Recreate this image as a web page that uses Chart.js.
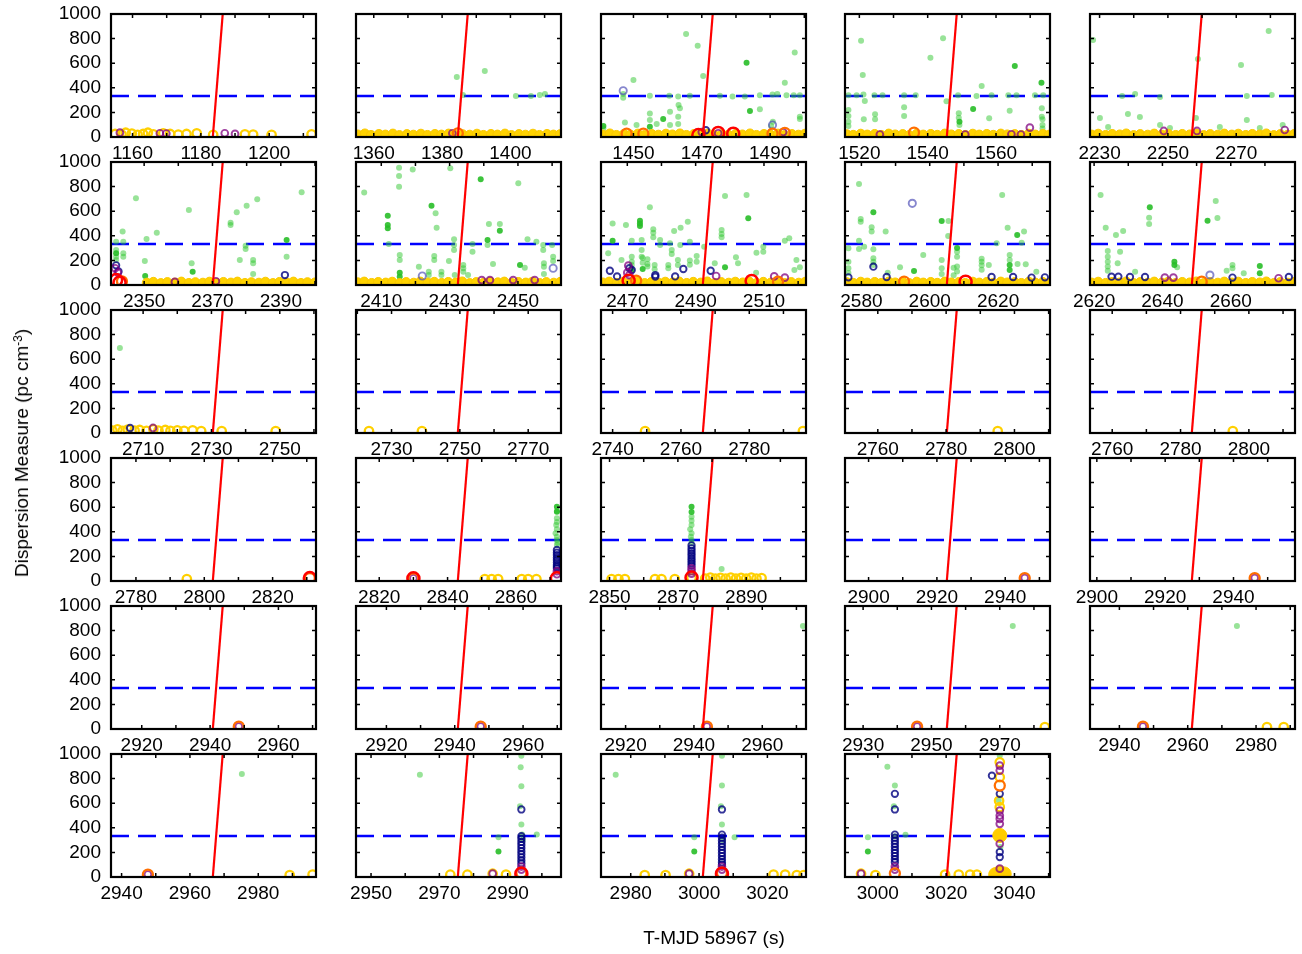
<!DOCTYPE html>
<html><head><meta charset="utf-8">
<script src="https://cdn.jsdelivr.net/npm/chart.js@4.4.1/dist/chart.umd.min.js"></script>
<style>
html,body{margin:0;padding:0;background:#fff;}
#wrap{position:relative;width:1302px;height:954px;overflow:hidden;font-family:"Liberation Sans",Arial,Helvetica,sans-serif;color:#000;}
#wrap canvas{position:absolute;}
#ytitle{position:absolute;left:22px;top:453px;transform:translate(-50%,-50%) rotate(-90deg);white-space:nowrap;font-size:19px;z-index:5;}
#ytitle sup{font-size:12px;vertical-align:6px;line-height:0;}
#xtitle{position:absolute;left:714px;top:938px;transform:translate(-50%,-50%);white-space:nowrap;font-size:19px;z-index:5;}
</style></head>
<body><div id="wrap">
<div id="ytitle">Dispersion Measure (pc cm<sup>-3</sup>)</div>
<div id="xtitle">T-MJD 58967 (s)</div>
</div>
<script>
// ---------------- DATA ----------------
const xMin = [1153.7,1354.8,1440.5,1515.8,2227.2,2340.3,2402.6,2462.3,2575.2,2618.8,2700.6,2719.6,2736.6,2750.4,2753.5,2772.7,2813.2,2847.5,2893.1,2898.0,2911.0,2911.1,2912.8,2924.7,2931.4,2936.9,2945.6,2971.3,2990.4];
const xMax = [1213.7,1414.8,1500.5,1575.8,2287.2,2400.3,2462.6,2522.3,2635.2,2678.8,2760.6,2779.6,2796.6,2810.4,2813.5,2832.7,2873.2,2907.5,2953.1,2958.0,2971.0,2971.1,2972.8,2984.7,2991.4,2996.9,3005.6,3031.3,3050.4];
const tickLabels = [[1160,1180,1200],[1360,1380,1400],[1450,1470,1490],[1520,1540,1560],[2230,2250,2270],
 [2350,2370,2390],[2410,2430,2450],[2470,2490,2510],[2580,2600,2620],[2620,2640,2660],
 [2710,2730,2750],[2730,2750,2770],[2740,2760,2780],[2760,2780,2800],[2760,2780,2800],
 [2780,2800,2820],[2820,2840,2860],[2850,2870,2890],[2900,2920,2940],[2900,2920,2940],
 [2920,2940,2960],[2920,2940,2960],[2920,2940,2960],[2930,2950,2970],[2940,2960,2980],
 [2940,2960,2980],[2950,2970,2990],[2980,3000,3020],[3000,3020,3040]];
const yTickValues = [0,200,400,600,800,1000];
// dispersion sweep (red line): time at DM 0 and at DM 1000
const sweepStart = [1183.5,1384.6,1470.3,1545.6,2257.0,2370.1,2432.4,2492.1,2605.0,2648.6,2730.4,2749.4,2766.4,2780.2,2783.3,2802.5,2843.0,2877.3,2922.9,2927.8,2940.8,2940.9,2942.6,2954.5,2961.2,2966.7,2975.4,3001.1,3020.2];
const sweepEnd   = [1186.4,1387.5,1473.2,1548.5,2259.9,2373.0,2435.3,2495.0,2607.9,2651.5,2733.3,2752.3,2769.3,2783.1,2786.2,2805.4,2845.9,2880.2,2925.8,2930.7,2943.7,2943.8,2945.5,2957.4,2964.1,2969.6,2978.3,3004.0,3023.1];
const dmSource = 333; // blue dashed line

// points: [panel, time (s), DM]
const greenLight = [
[2,1384.3,488],[2,1392.5,537],[2,1386.1,341],[2,1401.6,333],[2,1406.0,333],[2,1408.6,341],[2,1410.1,350],
[3,1465.4,837],[3,1468.8,742],[3,1450.0,463],[3,1470.4,496],[3,1497.2,688],[3,1494.3,442],
[3,1447.0,350],[3,1447.0,320],[3,1454.8,336],[3,1460.5,336],[3,1463.1,330],[3,1466.5,336],[3,1475.3,336],[3,1479.0,330],[3,1482.6,330],[3,1487.0,340],[3,1490.7,345],[3,1492.1,350],[3,1494.8,340],[3,1496.9,340],[3,1498.7,340],
[3,1463.2,260],[3,1463.6,233],[3,1460.7,206],[3,1463.1,165],[3,1454.8,192],[3,1454.8,138],[3,1456.8,106],[3,1460.7,98],[3,1463.1,106],[3,1487.0,225],[3,1447.5,117],[3,1450.9,98],[3,1498.7,165],[3,1498.7,146],[3,1441.2,70],[3,1490.8,125],[3,1490.3,89],
[4,1520.5,783],[4,1544.5,802],[4,1540.8,645],[4,1521.0,504],[4,1555.8,415],
[4,1516.8,340],[4,1519.2,340],[4,1521.2,345],[4,1524.4,340],[4,1526.8,340],[4,1533.1,340],[4,1536.5,340],[4,1545.5,290],[4,1548.9,340],[4,1554.3,333],[4,1558.7,340],[4,1563.6,340],[4,1566.0,340],[4,1571.4,340],[4,1573.8,340],
[4,1521.6,293],[4,1516.8,220],[4,1533.1,241],[4,1533.1,171],[4,1524.6,184],[4,1524.6,144],[4,1521.3,144],[4,1549.1,193],[4,1549.1,157],[4,1549.3,98],[4,1558.0,152],[4,1564.0,214],[4,1573.4,233],[4,1573.4,165],[4,1573.6,144],[4,1573.6,98],[4,1573.6,70],[4,1516.8,171],[4,1516.8,124],[4,1516.8,89],
[5,2228.1,789],[5,2279.5,862],[5,2258.8,634],[5,2271.4,585],[5,2236.6,333],[5,2240.4,350],[5,2247.7,325],[5,2273.1,333],[5,2280.4,341],[5,2230.1,154],[5,2232.5,81],[5,2238.3,187],[5,2241.8,163],[5,2247.7,98],[5,2250.6,73],[5,2258.2,154],[5,2265.2,81],[5,2273.1,138],[5,2276.9,73],[5,2283.6,98],
[6,2347.6,705],[6,2343.7,434],[6,2350.7,374],[6,2353.7,425],[6,2363.1,610],[6,2375.3,507],[6,2375.3,488],[6,2377.1,591],[6,2380.0,645],[6,2383.1,697],[6,2396.1,754],[6,2379.7,320],[6,2379.7,293],[6,2381.9,203],[6,2381.9,176],[6,2378.0,203],[6,2391.7,230],[6,2381.9,89],[6,2350.2,195],[6,2363.9,176],[6,2341.8,352],[6,2341.8,285],[6,2341.8,230],[6,2341.8,203],[6,2343.9,352],[6,2343.9,258],[6,2343.9,230],
[7,2405.0,753],[7,2415.2,954],[7,2415.2,886],[7,2415.2,799],[7,2419.2,940],[7,2430.2,949],[7,2450.1,827],[7,2425.9,583],[7,2426.2,466],[7,2441.5,496],[7,2444.7,496],[7,2452.8,371],[7,2455.4,352],[7,2457.4,325],[7,2457.4,285],[7,2460.0,325],[7,2412.2,333],[7,2431.3,371],[7,2431.3,325],[7,2431.3,285],[7,2436.7,333],[7,2436.7,271],[7,2441.1,325],[7,2415.4,244],[7,2415.4,203],[7,2425.5,236],[7,2425.5,203],[7,2421.0,149],[7,2423.9,108],[7,2423.9,81],[7,2427.6,108],[7,2427.6,81],[7,2429.8,195],[7,2431.5,81],[7,2434.0,163],[7,2434.0,136],[7,2434.0,108],[7,2435.4,81],[7,2442.7,171],[7,2452.0,141],[7,2457.6,176],[7,2457.6,149],[7,2457.6,89],[7,2460.3,230],[7,2460.3,195],
[8,2476.6,632],[8,2498.6,724],[8,2504.9,732],[8,2469.6,488],[8,2465.7,501],[8,2477.6,453],[8,2477.6,425],[8,2477.6,388],[8,2483.7,439],[8,2485.6,466],[8,2487.7,515],[8,2497.6,447],[8,2497.6,415],[8,2497.6,388],[8,2471.3,360],[8,2474.2,366],[8,2474.2,285],[8,2474.2,230],[8,2479.6,366],[8,2479.6,325],[8,2482.5,339],[8,2483.0,285],[8,2483.0,252],[8,2485.5,325],[8,2488.3,352],[8,2490.3,236],[8,2490.3,190],[8,2492.5,311],[8,2509.8,311],[8,2509.8,271],[8,2507.8,263],[8,2516.1,360],[8,2517.4,380],[8,2501.8,225],[8,2471.3,230],[8,2471.3,190],[8,2471.3,163],[8,2468.3,203],[8,2464.4,258],[8,2474.5,220],[8,2474.5,180],[8,2475.9,210],[8,2475.9,170],[8,2475.9,150],[8,2478.0,163],[8,2478.0,128],[8,2482.0,163],[8,2482.0,136],[8,2484.8,203],[8,2484.8,163],[8,2488.3,200],[8,2488.3,165],[8,2495.6,176],[8,2502.4,176],[8,2507.7,100],[8,2519.5,203],[8,2520.5,144],[8,2518.9,122],
[9,2579.3,821],[9,2579.8,515],[9,2579.8,537],[9,2583.0,469],[9,2583.0,434],[9,2587.1,434],[9,2579.3,360],[9,2579.3,293],[9,2580.8,311],[9,2583.5,290],[9,2583.5,217],[9,2583.5,190],[9,2583.5,163],[9,2576.2,190],[9,2576.2,136],[9,2576.2,98],[9,2587.7,100],[9,2598.1,244],[9,2605.5,520],[9,2605.4,398],[9,2603.5,203],[9,2603.5,136],[9,2603.5,89],[9,2608.0,270],[9,2608.0,230],[9,2608.0,150],[9,2608.0,110],[9,2607.0,140],[9,2607.0,80],[9,2615.2,214],[9,2615.2,190],[9,2615.2,160],[9,2615.2,125],[9,2617.3,163],[9,2619.6,339],[9,2621.2,732],[9,2622.8,466],[9,2623.4,244],[9,2623.4,203],[9,2626.9,344],[9,2628.1,168],[9,2625.7,171],[9,2631.2,108],[9,2576.2,298],[9,2627.6,434],[9,2591.3,144],
[10,2621.9,732],[10,2623.4,466],[10,2626.4,407],[10,2628.5,439],[10,2636.1,547],[10,2636.1,496],[10,2655.6,683],[10,2656.1,545],[10,2624.0,277],[10,2624.0,230],[10,2624.0,190],[10,2624.0,150],[10,2624.0,115],[10,2627.6,271],[10,2626.9,176],[10,2632.0,108],[10,2644.3,144],[10,2658.8,116],[10,2660.5,163],[10,2660.5,136],[10,2663.8,95],
[11,2703.2,691],
[17,2872.0,570],[17,2872.0,510],[17,2872.0,480],[17,2871.8,455],[17,2872.0,420],[17,2871.6,388],[17,2872.0,360],[17,2872.0,333],[17,2872.2,310],[17,2872.0,293],
[18,2874.0,523],[18,2874.0,490],[18,2874.0,455],[18,2873.6,420],[18,2874.0,388],[18,2873.8,360],[18,2874.0,333],[18,2874.0,306],[18,2882.8,98],
[23,2971.9,837],[24,2973.8,837],[25,2974.4,837],[26,2975.2,837],
[27,2964.3,832],[27,2994.0,986],[27,2993.8,892],[27,2994.0,738],[27,2993.6,576],[27,2994.0,427],[27,2994.2,346],[27,2998.5,346],[27,2987.3,324],[27,2994.4,300],
[28,2975.6,832],[28,3006.7,986],[28,3006.7,743],[28,3006.4,576],[28,3006.7,427],[28,3010.4,324],[28,2998.6,324],[28,3006.9,300],
[29,3002.8,897],[29,3005.0,743],[29,3004.7,576],[29,3005.0,330],[29,2997.1,324],[29,3008.1,343],[29,3035.7,986],[29,3035.4,622],[29,3035.9,243]
];
const greenDark = [
[3,1483.1,604],[3,1484.1,211],[3,1441.2,89],[3,1454.8,84],[3,1458.7,146],
[4,1565.5,577],[4,1573.3,442],[4,1553.3,228],[4,1549.3,124],
[6,2391.7,366],[6,2350.3,73],[6,2364.2,108],[6,2341.8,258],
[7,2439.1,859],[7,2411.9,564],[7,2411.9,488],[7,2411.9,461],[7,2424.7,645],[7,2444.7,442],[7,2415.4,100],[7,2415.4,68],[7,2450.6,163],[7,2441.1,366],
[8,2505.4,542],[8,2473.7,523],[8,2473.7,501],[8,2473.7,480],[8,2465.7,360],[8,2471.3,122],[8,2498.6,144],[8,2474.5,130],
[9,2583.5,591],[9,2595.4,114],[9,2603.5,520],[9,2623.4,163],[9,2623.4,122],[9,2625.6,407],[9,2608.0,300],
[10,2636.3,632],[10,2653.2,523],[10,2643.5,190],[10,2643.5,163],[10,2668.5,155],[10,2668.5,95],
[17,2872.0,604],[17,2872.0,563],[18,2874.0,604],[18,2874.0,560],
[27,2987.3,208],[28,2998.6,208],[29,2997.1,208]
];
const navyRings = [
[3,1471.2,55],
[6,2391.2,81],[6,2341.8,160],[6,2342.5,110],
[8,2464.9,116],[8,2470.6,136],[8,2471.3,122],[8,2478.2,81],[8,2478.2,68],[8,2486.4,130],[8,2494.4,116],[8,2467.0,70],[8,2484.0,70],
[9,2583.5,149],[9,2576.2,62],[9,2587.4,65],[9,2618.1,65],[9,2624.4,65],[9,2629.8,60],[9,2633.7,62],
[10,2625.1,68],[10,2627.1,68],[10,2630.5,65],[10,2634.9,65],[10,2660.5,60],[10,2677.0,65],
[11,2706.2,41],
[17,2872.0,252],[17,2872.0,230],[17,2872.0,211],[17,2872.0,190],[17,2872.0,171],[17,2872.0,150],[17,2872.0,130],[17,2872.0,115],[17,2872.0,103],
[18,2874.0,290],[18,2874.0,266],[18,2874.0,245],[18,2874.0,225],[18,2874.0,205],[18,2874.0,184],[18,2874.0,165],[18,2874.0,144],[18,2874.0,125],
[27,2994.0,549],[27,2994.0,332],[27,2994.0,310],[27,2994.0,285],[27,2994.0,260],[27,2994.0,235],[27,2994.0,210],[27,2994.0,185],[27,2994.0,160],[27,2994.0,135],[27,2994.0,110],
[28,3006.7,549],[28,3006.7,345],[28,3006.7,320],[28,3006.7,295],[28,3006.7,270],[28,3006.7,245],[28,3006.7,220],[28,3006.7,195],[28,3006.7,170],[28,3006.7,145],[28,3006.7,120],[28,3006.7,100],
[29,3005.0,676],[29,3005.0,549],[29,3005.0,345],[29,3005.0,320],[29,3005.0,295],[29,3005.0,270],[29,3005.0,245],[29,3005.0,220],[29,3005.0,195],[29,3005.0,170],[29,3005.0,145],[29,3005.0,120],[29,3033.4,824],[29,3035.7,676],[29,3035.7,203],[29,3035.7,162]
];
const slateRings = [[3,1447.0,376],[3,1490.7,98],[7,2422.0,73],[7,2460.3,136],[9,2594.9,664],[10,2653.9,81]];
const purpleRings = [
[1,1156.3,35],[1,1168.0,30],[1,1169.9,28],[1,1187.0,30],[1,1190.0,25],
[2,1383.0,30],
[3,1474.8,30],[3,1493.8,40],[3,1470.0,40],
[4,1569.9,76],[4,1526.0,20],[4,1551.0,20],[4,1564.5,22],[4,1567.3,20],
[5,2248.8,49],[5,2258.5,49],[5,2284.2,57],
[6,2341.5,136],[6,2342.3,100],[6,2359.0,25],[6,2371.0,30],
[7,2439.4,40],[7,2441.8,40],[7,2448.6,40],[7,2454.9,40],
[8,2470.3,157],[8,2470.0,100],[8,2470.6,80],[8,2496.0,73],[8,2513.0,70],[8,2516.1,60],
[10,2640.7,60],[10,2643.2,60],[10,2674.0,55],
[11,2712.9,41],
[17,2872.0,80],[17,2872.0,55],[17,2830.0,22],
[18,2874.0,103],[18,2874.0,80],[18,2874.0,60],
[19,2945.7,24],[20,2946.2,24],[21,2948.4,20],[22,2947.6,20],[23,2943.8,20],[24,2945.8,20],[25,2946.9,20],[26,2947.7,20],
[27,2994.0,85],[27,2994.0,60],[27,2985.6,27],
[28,3006.7,85],[28,3006.7,60],[28,2997.1,27],
[29,3005.0,85],[29,3005.0,60],[29,2995.1,27],[29,3035.7,905],[29,3035.7,865],[29,3035.7,540],[29,3035.7,500],[29,3035.7,473],[29,3035.7,432],[29,3035.7,270],[29,3035.7,68]
];
const redRings = [
[3,1469.0,16],[3,1474.8,33],[3,1479.2,27],
[6,2341.8,40],[6,2342.8,20],
[8,2470.4,35],[8,2506.4,33],
[9,2610.5,27],
[16,2830.9,24],[17,2830.0,22],[17,2872.0,22],[18,2874.0,28],
[27,2994.0,27],[28,3006.7,27]
];
const orangeRings = [
[2,1384.6,30],
[3,1448.0,27],[3,1452.9,27],[3,1490.7,27],[3,1494.3,33],
[4,1536.0,35],[6,2343.5,30],[8,2472.6,35],[8,2514.1,27],[9,2592.5,27],[10,2651.5,27],
[16,2830.9,24],[17,2830.0,22],
[19,2945.7,24],[20,2946.2,24],[21,2948.4,20],[22,2947.6,20],[23,2943.8,20],[24,2945.8,20],[25,2946.9,20],[26,2947.7,20],
[27,2994.0,35],[28,3006.7,35],[29,3005.0,30],[29,3035.7,743]
];
const goldRings = [
[1,1154.9,25],[1,1156.8,20],[1,1158.0,35],[1,1159.8,28],[1,1161.5,18],[1,1163.1,25],[1,1164.5,35],[1,1166.1,22],[1,1169.0,30],[1,1171.0,25],[1,1173.4,20],[1,1175.8,25],[1,1178.8,30],[1,1183.6,18],[1,1192.9,22],[1,1195.3,20],[1,1200.7,18],[1,1212.4,22],
[11,2701.0,20],[11,2702.5,30],[11,2704.0,18],[11,2705.5,28],[11,2707.5,20],[11,2709.0,25],[11,2711.0,18],[11,2713.0,30],[11,2714.5,20],[11,2716.5,25],[11,2718.0,18],[11,2720.0,22],[11,2722.0,18],[11,2724.5,22],[11,2727.0,16],[11,2733.0,16],[11,2748.8,16],
[12,2723.4,16],[12,2738.9,16],
[13,2749.5,16],[13,2795.7,16],[14,2795.1,16],[15,2795.3,16],[16,2794.9,16],
[17,2850.9,16],[17,2852.9,16],[17,2854.8,16],[17,2861.7,16],[17,2863.6,16],[17,2866.0,16],
[18,2850.6,16],[18,2852.6,16],[18,2854.5,16],[18,2863.3,16],[18,2865.2,16],[18,2869.1,16],[18,2874.0,25],
[18,2878.0,20],[18,2879.5,28],[18,2881.0,20],[18,2882.5,26],[18,2884.0,20],[18,2885.5,28],[18,2887.0,20],[18,2888.5,26],[18,2890.0,20],[18,2891.5,28],[18,2893.0,20],[18,2894.5,24],
[24,2983.2,16],[25,2983.2,16],[25,2988.1,16],[26,2989.2,16],[26,2995.9,20],
[27,2973.2,19],[27,2978.2,19],[27,2985.6,27],[27,2989.5,20],
[28,2984.1,16],[28,2990.2,16],[28,2997.1,27],[28,3021.8,20],[28,3025.2,20],[28,3028.6,16],[28,3030.6,16],
[29,2995.1,27],[29,2999.3,16],[29,3019.7,20],[29,3023.7,20],[29,3027.0,20],[29,3029.0,20],[29,3035.7,932],[29,3035.7,811],[29,3035.7,568],[29,3035.5,620]
];
const goldBig = [[29,3035.7,338],[29,3035.7,35],[29,3034.5,20],[29,3037.0,25]];
const goldBand = [
[2,1355.3,20],[2,1357.4,28],[2,1359.2,16],[2,1361.5,24],[2,1363.4,19],[2,1365.6,27],[2,1367.5,15],[2,1369.7,23],[2,1371.6,18],[2,1373.8,26],[2,1375.7,16],[2,1377.9,24],[2,1379.8,19],[2,1381.9,27],[2,1383.8,17],[2,1386.0,22],[2,1388.1,18],[2,1390.2,26],[2,1392.1,16],[2,1394.3,24],[2,1396.2,19],[2,1398.4,27],[2,1400.3,15],[2,1402.5,23],[2,1404.4,18],[2,1406.6,26],[2,1408.5,16],[2,1410.7,24],[2,1412.6,19],[2,1414.5,22],
[3,1441.0,20],[3,1443.1,28],[3,1445.0,16],[3,1447.2,24],[3,1449.1,19],[3,1451.3,27],[3,1453.2,15],[3,1455.4,23],[3,1457.3,18],[3,1459.5,26],[3,1461.4,20],[3,1463.6,28],[3,1465.5,16],[3,1467.7,24],[3,1469.6,19],[3,1471.8,27],[3,1473.7,15],[3,1475.9,23],[3,1477.8,18],[3,1480.0,26],[3,1481.9,20],[3,1484.1,28],[3,1486.0,16],[3,1488.2,24],[3,1490.1,19],[3,1492.3,27],[3,1494.2,15],[3,1496.4,23],[3,1498.3,18],[3,1500.2,26],
[4,1516.3,22],[4,1518.2,17],[4,1520.4,26],[4,1522.3,19],[4,1524.5,24],[4,1526.4,16],[4,1528.6,27],[4,1530.5,20],[4,1532.7,23],[4,1534.6,15],[4,1536.8,26],[4,1538.7,19],[4,1540.9,24],[4,1542.8,17],[4,1545.0,27],[4,1546.9,20],[4,1549.1,23],[4,1551.0,16],[4,1553.2,26],[4,1555.1,19],[4,1557.3,24],[4,1559.2,17],[4,1561.4,27],[4,1563.3,20],[4,1565.5,23],[4,1567.4,16],[4,1569.6,26],[4,1571.5,19],[4,1573.7,24],[4,1575.5,18],
[5,2227.7,19],[5,2229.6,26],[5,2231.8,16],[5,2233.7,24],[5,2235.9,20],[5,2237.8,28],[5,2240.0,15],[5,2241.9,23],[5,2244.1,18],[5,2246.0,27],[5,2248.2,19],[5,2250.1,26],[5,2252.3,16],[5,2254.2,24],[5,2256.4,20],[5,2258.3,28],[5,2260.5,15],[5,2262.4,23],[5,2264.6,18],[5,2266.5,27],[5,2268.7,19],[5,2270.6,26],[5,2272.8,16],[5,2274.7,24],[5,2276.9,20],[5,2278.8,28],[5,2281.0,15],[5,2282.9,23],[5,2285.1,18],[5,2287.0,25],
[6,2350.8,18],[6,2352.7,25],[6,2354.9,15],[6,2356.8,23],[6,2359.0,19],[6,2360.9,27],[6,2363.1,16],[6,2365.0,22],[6,2367.2,18],[6,2369.1,26],[6,2371.3,15],[6,2373.2,24],[6,2375.4,19],[6,2377.3,27],[6,2379.5,16],[6,2381.4,22],[6,2383.6,18],[6,2385.5,26],[6,2387.7,15],[6,2389.6,24],[6,2391.8,19],[6,2393.7,27],[6,2395.9,16],[6,2397.8,22],[6,2400.0,20],
[7,2403.1,21],[7,2405.0,27],[7,2407.2,16],[7,2409.1,24],[7,2411.3,19],[7,2413.2,26],[7,2415.4,15],[7,2417.3,23],[7,2419.5,18],[7,2421.4,27],[7,2423.6,20],[7,2425.5,25],[7,2427.7,16],[7,2429.6,24],[7,2431.8,19],[7,2433.7,28],[7,2435.9,15],[7,2437.8,23],[7,2440.0,18],[7,2441.9,26],[7,2444.1,21],[7,2446.0,27],[7,2448.2,16],[7,2450.1,24],[7,2452.3,19],[7,2454.2,26],[7,2456.4,15],[7,2458.3,23],[7,2460.5,18],[7,2462.4,25],
[8,2462.8,20],[8,2464.7,27],[8,2466.9,16],[8,2468.8,25],[8,2471.0,19],[8,2472.9,28],[8,2475.1,15],[8,2477.0,23],[8,2479.2,18],[8,2481.1,26],[8,2483.3,20],[8,2485.2,27],[8,2487.4,16],[8,2489.3,25],[8,2491.5,19],[8,2493.4,28],[8,2495.6,15],[8,2497.5,23],[8,2499.7,18],[8,2501.6,26],[8,2503.8,20],[8,2505.7,27],[8,2507.9,16],[8,2509.8,25],[8,2512.0,19],[8,2513.9,28],[8,2516.1,15],[8,2518.0,23],[8,2520.2,18],[8,2522.1,26],
[9,2575.7,22],[9,2577.6,17],[9,2579.8,26],[9,2581.7,19],[9,2583.9,24],[9,2585.8,16],[9,2588.0,27],[9,2589.9,20],[9,2592.1,23],[9,2594.0,15],[9,2596.2,26],[9,2598.1,19],[9,2600.3,24],[9,2602.2,17],[9,2604.4,27],[9,2606.3,20],[9,2608.5,23],[9,2610.4,16],[9,2612.6,26],[9,2614.5,19],[9,2616.7,24],[9,2618.6,17],[9,2620.8,27],[9,2622.7,20],[9,2624.9,23],[9,2626.8,16],[9,2629.0,26],[9,2630.9,19],[9,2633.1,24],[9,2635.0,18],
[10,2619.3,19],[10,2621.2,26],[10,2623.4,16],[10,2625.3,24],[10,2627.5,20],[10,2629.4,28],[10,2631.6,15],[10,2633.5,23],[10,2635.7,18],[10,2637.6,27],[10,2639.8,19],[10,2641.7,26],[10,2643.9,16],[10,2645.8,24],[10,2648.0,20],[10,2649.9,28],[10,2652.1,15],[10,2654.0,23],[10,2656.2,18],[10,2658.1,27],[10,2660.3,19],[10,2662.2,26],[10,2664.4,16],[10,2666.3,24],[10,2668.5,20],[10,2670.4,28],[10,2672.6,15],[10,2674.5,23],[10,2676.7,18],[10,2678.6,25]
];

// ---------------- LAYOUT ----------------
const colLeft = [111,356,601,845,1090];
const rowTop = [14,162,310,458,606,754];
const PW = 205, PH = 123, PAD_L = 30, PAD_R = 30, PAD_T = 26, PAD_B = 4, XAXIS_H = 30, YAXIS_W = 62;
const FONT = {family: '"Liberation Sans", Arial, Helvetica, sans-serif', size: 19};

Chart.defaults.color = '#000';
Chart.defaults.font.family = FONT.family;

const framePlugin = {
  id: 'frame',
  afterDatasetsDraw(chart) {
    const {ctx, chartArea: a} = chart;
    const xs = chart.scales.x, ys = chart.scales.y;
    ctx.save();
    ctx.strokeStyle = '#000';
    ctx.lineWidth = 1.5;
    ctx.beginPath();
    xs.ticks.forEach(t => {
      const px = xs.getPixelForValue(t.value);
      ctx.moveTo(px, a.bottom); ctx.lineTo(px, a.bottom - 4);
      ctx.moveTo(px, a.top); ctx.lineTo(px, a.top + 4);
    });
    ys.ticks.forEach(t => {
      const py = ys.getPixelForValue(t.value);
      ctx.moveTo(a.left, py); ctx.lineTo(a.left + 4, py);
      ctx.moveTo(a.right, py); ctx.lineTo(a.right - 4, py);
    });
    ctx.stroke();
    ctx.lineWidth = 2.2;
    ctx.strokeRect(a.left, a.top, a.right - a.left, a.bottom - a.top);
    ctx.restore();
  }
};

function pts(arr, p) { return arr.filter(d => d[0] === p).map(d => ({x: d[1], y: d[2]})); }
function scatterSet(arr, p, radius, fill, stroke, bw, order) {
  return {data: pts(arr, p), showLine: false, order: order, clip: 0,
    pointRadius: radius, pointHoverRadius: radius,
    pointBackgroundColor: fill, pointBorderColor: stroke, pointBorderWidth: bw,
    backgroundColor: fill, borderColor: stroke};
}

const wrap = document.getElementById('wrap');
for (let i = 0; i < xMin.length; i++) {
  const p = i + 1, r = Math.floor(i / 5), c = i % 5;
  const yw = c === 0 ? YAXIS_W : 0;
  const w = PAD_L + yw + PW + PAD_R, h = PAD_T + PH + XAXIS_H + PAD_B;
  const cv = document.createElement('canvas');
  cv.width = w; cv.height = h;
  cv.style.width = w + 'px'; cv.style.height = h + 'px';
  cv.style.left = (colLeft[c] - PAD_L - yw) + 'px';
  cv.style.top = (rowTop[r] - PAD_T) + 'px';
  wrap.appendChild(cv);
  const labs = tickLabels[i];
  const none = 'rgba(0,0,0,0)';
  new Chart(cv, {
    type: 'scatter',
    data: {datasets: [
      {data: [{x: sweepStart[i], y: 0}, {x: sweepEnd[i], y: 1000}], showLine: true, pointRadius: 0, borderColor: '#ff0000', borderWidth: 2.2, order: 0, clip: 0},
      scatterSet(redRings, p, 6, none, '#ff0000', 2.5, 1),
      scatterSet(orangeRings, p, 5, none, 'rgb(255,110,0)', 2.3, 2),
      scatterSet(purpleRings, p, 3.4, none, 'rgba(128,0,128,0.75)', 1.9, 3),
      scatterSet(navyRings, p, 3.2, none, 'rgba(0,0,128,0.8)', 1.9, 4),
      scatterSet(slateRings, p, 3.6, none, 'rgba(70,70,180,0.65)', 1.9, 4),
      scatterSet(goldBig, p, 7, 'rgb(255,205,0)', 'rgb(255,205,0)', 1, 5),
      scatterSet(goldRings, p, 4.2, none, 'rgb(255,208,0)', 2.3, 5),
      scatterSet(goldBand, p, 4.6, 'rgb(255,210,0)', 'rgb(250,200,0)', 1, 6),
      scatterSet(greenDark, p, 3, 'rgba(40,190,40,0.9)', none, 0, 7),
      scatterSet(greenLight, p, 3, 'rgba(50,200,50,0.5)', none, 0, 8),
      {data: [{x: xMin[i], y: dmSource}, {x: xMax[i], y: dmSource}], showLine: true, pointRadius: 0, borderColor: '#0000ff', borderWidth: 2.6, borderDash: [18, 9], order: 9, clip: 0}
    ]},
    options: {
      responsive: false, maintainAspectRatio: false, animation: false, devicePixelRatio: 1, events: [],
      layout: {padding: {left: PAD_L, right: PAD_R, top: PAD_T, bottom: PAD_B}},
      plugins: {legend: {display: false}, tooltip: {enabled: false}},
      scales: {
        x: {type: 'linear', position: 'bottom', min: xMin[i], max: xMax[i],
          grid: {display: false, drawTicks: false}, border: {display: false},
          ticks: {autoSkip: false, maxRotation: 0, minRotation: 0, padding: 5, font: FONT, color: '#000',
            callback: v => labs.includes(Math.round(v)) ? String(Math.round(v)) : ''},
          afterBuildTicks: s => {
            const t = [];
            for (let v = Math.ceil(s.min / 10) * 10; v <= s.max; v += 10) t.push({value: v});
            s.ticks = t;
          },
          afterFit: s => { s.height = XAXIS_H; }},
        y: {type: 'linear', position: 'left', min: 0, max: 1000, display: c === 0,
          grid: {display: false, drawTicks: false}, border: {display: false},
          ticks: {autoSkip: false, padding: 10, font: FONT, color: '#000', callback: v => String(v)},
          afterBuildTicks: s => { s.ticks = yTickValues.map(v => ({value: v})); },
          afterFit: s => { s.width = yw; }}
      }
    },
    plugins: [framePlugin]
  });
}
</script>
</body></html>
